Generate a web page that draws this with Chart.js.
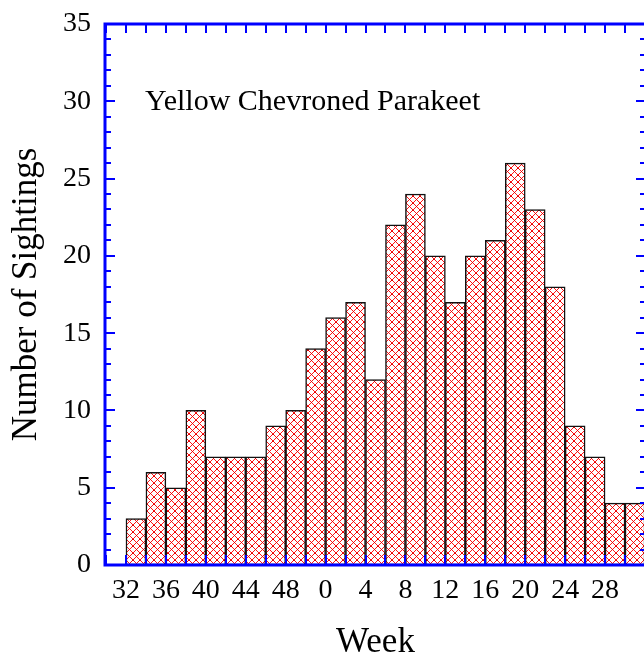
<!DOCTYPE html>
<html><head><meta charset="utf-8">
<script src="https://cdn.jsdelivr.net/npm/chart.js@4/dist/chart.umd.min.js"></script>
<style>html,body{margin:0;padding:0;overflow:hidden;background:#fff}</style>
</head><body>
<canvas id="c" width="650" height="660" style="display:block"></canvas>
<script>
const binStartWeeks = [32,34,36,38,40,42,44,46,48,50,52,54,56,58,60,62,64,66,68,70,72,74,76,78,80,82];
const sightings = [3,6,5,10,7,7,7,9,10,14,16,17,12,22,24,20,17,20,21,26,23,18,9,7,4,4];
const xTickValues = [32,36,40,44,48,52,56,60,64,68,72,76,80];
const xTickLabels = ['32','36','40','44','48','0','4','8','12','16','20','24','28'];
const yTickValues = [0,5,10,15,20,25,30,35];
const chartTitle = 'Yellow Chevroned Parakeet';
const xTitle = 'Week';
const yTitle = 'Number of Sightings';

const SERIF = '"Liberation Serif","Times New Roman",serif';
const canvas = document.getElementById('c');
const mainCtx = canvas.getContext('2d');

function makeHatch(){
  const s = 7;
  const c = document.createElement('canvas'); c.width = s; c.height = s;
  const g = c.getContext('2d');
  g.fillStyle = '#fff'; g.fillRect(0,0,s,s);
  g.fillStyle = 'rgb(255,20,20)';
  for (let i = 0; i < s; i++){ g.fillRect(i,i,1,1); g.fillRect(s-1-i,i,1,1); }
  g.fillStyle = 'rgb(220,0,0)';
  g.fillRect(3,3,1,1); g.fillRect(0,0,1,1); g.fillRect(6,0,1,1);
  return mainCtx.createPattern(c,'repeat');
}

function zeroPad(s){ s.paddingTop = 0; s.paddingBottom = 0; s.paddingLeft = 0; s.paddingRight = 0; }

const framePlugin = {
  id: 'frame',
  afterDatasetsDraw(chart){
    const {ctx, chartArea:a, scales:{x,y}} = chart;
    ctx.save();
    ctx.strokeStyle = '#0000ff';
    ctx.lineWidth = 2;
    ctx.beginPath();
    for (let w = Math.ceil(x.min/2)*2; w <= x.max; w += 2){
      const px = Math.round(x.getPixelForValue(w));
      ctx.moveTo(px, a.bottom); ctx.lineTo(px, a.bottom-10);
      ctx.moveTo(px, a.top); ctx.lineTo(px, a.top+9);
    }
    for (let v = y.min; v <= y.max; v += 1){
      const py = Math.round(y.getPixelForValue(v));
      const len = (v % 5 === 0) ? 10 : 6;
      ctx.moveTo(a.left, py); ctx.lineTo(a.left+len, py);
      ctx.moveTo(a.right, py); ctx.lineTo(a.right-len, py);
    }
    ctx.stroke();
    ctx.lineWidth = 3;
    ctx.strokeRect(a.left, a.top, a.right-a.left, a.bottom-a.top);
    ctx.fillStyle = '#000';
    ctx.font = '30px ' + SERIF;
    ctx.textBaseline = 'alphabetic';
    ctx.textAlign = 'left';
    ctx.fillText(chartTitle, a.left + 40, a.top + 86);
    ctx.restore();
  }
};

new Chart(canvas, {
  type: 'bar',
  data: {
    datasets: [{
      data: binStartWeeks.map((w,i) => ({x: w + 1, y: sightings[i]})),
      backgroundColor: makeHatch(),
      borderColor: '#111',
      borderWidth: 1.5,
      borderSkipped: false,
      barPercentage: 1,
      categoryPercentage: 1
    }]
  },
  options: {
    responsive: false,
    animation: false,
    devicePixelRatio: 1,
    layout: { padding: { top: 24, right: 4, left: 0, bottom: 0 } },
    plugins: { legend: {display:false}, tooltip: {enabled:false}, title: {display:false} },
    scales: {
      x: {
        type: 'linear', min: 29.9, max: 84.1, offset: false,
        grid: { display:false, drawTicks:false }, border: { display:false },
        afterBuildTicks: s => { s.ticks = xTickValues.map(v => ({value:v})); },
        afterFit: s => { s.height = 95; zeroPad(s); },
        ticks: { color:'#000', font:{family:SERIF, size:28}, padding: 9, maxRotation:0, autoSkip:false,
                 callback: (v, i) => xTickLabels[i] },
        title: { display:true, text:xTitle, color:'#000', font:{family:SERIF, size:35, lineHeight:1}, padding:{top:0,bottom:0} }
      },
      y: {
        min: 0, max: 35,
        grid: { display:false, drawTicks:false }, border: { display:false },
        afterBuildTicks: s => { s.ticks = yTickValues.map(v => ({value:v})); },
        afterFit: s => { s.width = 105; zeroPad(s); },
        ticks: { color:'#000', font:{family:SERIF, size:28}, padding: 14 },
        title: { display:true, text:yTitle, color:'#000', font:{family:SERIF, size:35}, padding:{top:6,bottom:0} }
      }
    }
  },
  plugins: [framePlugin]
});
</script>
</body></html>
